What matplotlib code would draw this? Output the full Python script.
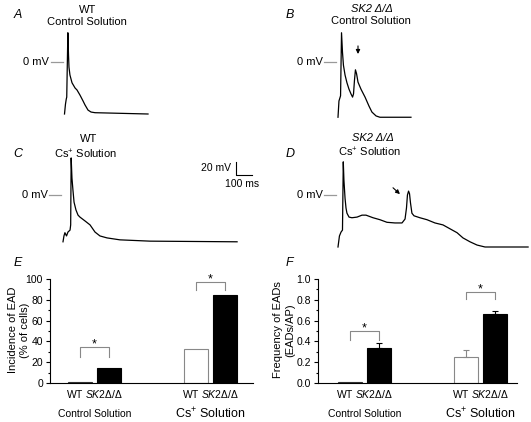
import matplotlib.pyplot as plt

plt.rcParams['font.family'] = 'Liberation Sans'
plt.rcParams['mathtext.fontset'] = 'custom'
plt.rcParams['mathtext.rm'] = 'Liberation Sans'
plt.rcParams['mathtext.it'] = 'Liberation Sans:italic'

W, H = 531, 422
MS_PER_PX = 100 / 16      # from the 100 ms scale bar
MV_PER_PX = 20 / 13       # from the 20 mV scale bar

# action potential traces, time (ms) from sweep start, voltage (mV)
a_t = [0, 6, 11, 14, 21, 25, 28, 34, 47, 66, 78, 97, 116, 128, 147, 166, 191, 522]
a_v = [-80, -65, -57, -54, 45, 11, -8, -20, -32, -40, -43, -51, -60, -66, -74, -77, -78, -80]

b_t = [0, 6, 16, 22, 28, 34, 44, 56, 69, 81, 91, 97, 103, 109, 116, 125, 144, 169,
       194, 212, 238, 262, 456]
b_v = [-85, -60, -52, 45, 15, -5, -20, -32, -42, -49, -54, -49, -28, -12, -18, -31, -42, -54,
       -68, -77, -83, -85, -85]

c_t = [0, 6, 12, 22, 31, 44, 48, 51, 56, 62, 69, 81, 94, 106, 138, 169, 200, 231,
       275, 356, 544, 1088]
c_v = [-72, -63, -58, -63, -57, -54, -46, 57, 26, 8, -11, -23, -31, -34, -40, -46, -57, -63,
       -66, -69, -71, -72]

d_t = [0, 9, 19, 28, 33, 37, 44, 50, 56, 69, 87, 119, 150, 175, 219, 262, 306, 356, 400,
       419, 428, 434, 441, 447, 453, 462, 475, 512, 556, 606, 656, 700, 744, 781, 825, 869,
       919, 1188]
d_v = [-80, -63, -57, -54, 51, 23, -5, -20, -28, -34, -35, -34, -31, -31, -35, -38, -42, -43,
       -43, -37, -20, 0, 6, 2, -12, -28, -32, -35, -38, -43, -46, -52, -58, -66, -72, -77,
       -80, -80]

SCALE_MV = 20
SCALE_MS = 100

# bar charts
groups = ['Control Solution', 'Cs$^{+}$ Solution']
genotypes = ['WT', 'SK2Δ/Δ']
incidence = [1, 14, 33, 85]            # % of cells: ctrl WT, ctrl SK2, Cs WT, Cs SK2
frequency = [0.005, 0.34, 0.25, 0.66]  # EADs/AP
frequency_err = [0, 0.04, 0.07, 0.03]
bracket_e = [(35, 25), (97, 89)]
bracket_f = [(0.50, 0.41), (0.875, 0.81)]

fig = plt.figure(figsize=(W / 100, H / 100), dpi=100)


def px_axes(l, t, w, h):
    return fig.add_axes([l / W, 1 - (t + h) / H, w / W, h / H])


def txt(x, y, s, **kw):
    kw.setdefault('ha', 'center')
    kw.setdefault('va', 'center')
    kw.setdefault('fontsize', 8)
    fig.text(x / W, 1 - y / H, s, **kw)


def trace_panel(x0, y0, l, t, w, h, tt, vv):
    ax = px_axes(l, t, w, h)
    ax.set_xlim((l - x0) * MS_PER_PX, (l + w - x0) * MS_PER_PX)
    ax.set_ylim((y0 - (t + h)) * MV_PER_PX, (y0 - t) * MV_PER_PX)
    ax.axis('off')
    ax.plot(tt, vv, color='black', lw=0.9, clip_on=False)
    ax.plot([-85, -10], [0, 0], color='#999999', lw=0.9, clip_on=False)
    ax.text(-95, 0, '0 mV', ha='right', va='center', fontsize=8)
    return ax


trace_panel(64.5, 62, 0, 25, 265, 100, a_t, a_v)
ax_b = trace_panel(338, 62, 265, 25, 266, 100, b_t, b_v)
ax_c = trace_panel(63, 195, 0, 150, 265, 100, c_t, c_v)
ax_d = trace_panel(338, 195, 265, 150, 266, 100, d_t, d_v)

ax_b.annotate('', xy=(125, 8), xytext=(125, 29),
              arrowprops=dict(arrowstyle='-|>', color='black', lw=0.8, mutation_scale=6))
ax_d.annotate('', xy=(400, -1.5), xytext=(331, 14),
              arrowprops=dict(arrowstyle='-|>', color='black', lw=0.8, mutation_scale=6))

# scale bar
sx, sy = 1081, 31
ax_c.plot([sx, sx, sx + SCALE_MS], [sy + SCALE_MV, sy, sy], color='black', lw=0.8, clip_on=False)
ax_c.text(sx - 30, sy + SCALE_MV / 2, '20 mV', ha='right', va='center', fontsize=7.5)
ax_c.text(sx + 38, sy - 14, '100 ms', ha='center', va='center', fontsize=7.5)

# panel titles
for x, y, s in [(18, 15, 'A'), (290, 15, 'B'), (18, 154, 'C'), (290, 154, 'D'),
                (18, 263, 'E'), (289, 263, 'F')]:
    txt(x, y, s, fontsize=9, style='italic')
txt(88, 10, 'WT')
txt(87, 22, 'Control Solution')
txt(372, 8.5, 'SK2 Δ/Δ', style='italic')
txt(371, 21, 'Control Solution')
txt(89, 139, 'WT')
txt(86, 154, 'Cs$^{+}$ Solution')
txt(373, 138, 'SK2 Δ/Δ', style='italic')
txt(370, 152, 'Cs$^{+}$ Solution')

pos = [0, 1, 4, 5]
bar_fc = ['white', 'black', 'white', 'black']
bar_ec = ['#333333', 'black', '#888888', 'black']


def bar_panel(l, xlim, vals, ylim, yticks, fmt, brackets, err=None):
    ax = px_axes(l, 279, xlim[2], 104)
    ax.set_xlim(xlim[0], xlim[1])
    ax.set_ylim(*ylim)
    ax.bar(pos, vals, width=0.83, color=bar_fc, edgecolor=bar_ec, linewidth=0.8)
    if err is not None:
        for p, v, e, c in zip(pos, vals, err, bar_ec):
            if e > 0:
                ax.errorbar(p, v, yerr=[[0], [e]], color=c, lw=0.8, capsize=2.5, capthick=0.8)
    for spine in ['top', 'right']:
        ax.spines[spine].set_visible(False)
    for spine in ['left', 'bottom']:
        ax.spines[spine].set_linewidth(0.8)
    ax.set_xticks([])
    ax.set_yticks(yticks)
    ax.set_yticklabels([fmt % v for v in yticks], fontsize=7.5)
    ax.set_yticks([(a + b) / 2 for a, b in zip(yticks[:-1], yticks[1:])], minor=True)
    ax.tick_params(axis='y', which='major', length=3, width=0.8, pad=2)
    ax.tick_params(axis='y', which='minor', length=1.5, width=0.8)
    span = ylim[1] - ylim[0]
    for (top, leg), (p1, p2) in zip(brackets, [(pos[0], pos[1]), (pos[2], pos[3])]):
        ax.plot([p1, p1, p2, p2], [leg, top, top, leg], color='#888888', lw=0.8)
        ax.text((p1 + p2) / 2, top - 0.035 * span, '*', ha='center', va='bottom', fontsize=9)
    tr = ax.get_xaxis_transform()
    for c, g, gs in zip([0.5, 4.5], groups, [7.5, 9]):
        ax.text(c, -0.105, r'WT $\mathit{SK2Δ/Δ}$', transform=tr, ha='center', va='center',
                fontsize=7.5)
        ax.text(c, -0.30, g, transform=tr, ha='center', va='center', fontsize=gs)
    return ax


bar_panel(50, (-1.03, 5.97, 203), incidence, (0, 100), [0, 20, 40, 60, 80, 100], '%d',
          bracket_e)
bar_panel(318, (-1.1, 5.76, 199), frequency, (0, 1), [0, 0.2, 0.4, 0.6, 0.8, 1.0], '%.1f',
          bracket_f, frequency_err)

txt(19, 330, 'Incidence of EAD\n(% of cells)', rotation=90, multialignment='center',
    linespacing=1.3)
txt(284, 330, 'Frequency of EADs\n(EADs/AP)', rotation=90, multialignment='center',
    linespacing=1.3)

fig.savefig('out.png', dpi=100)
